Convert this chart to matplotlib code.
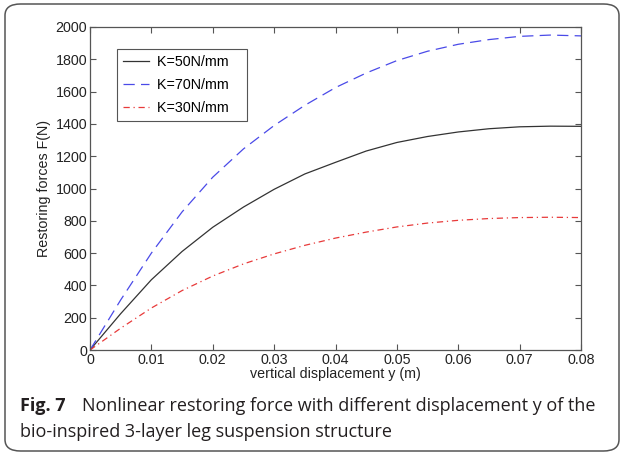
import matplotlib
matplotlib.use("Agg")
import matplotlib.pyplot as plt
from matplotlib.patches import FancyBboxPatch

# ---- data ----
y_disp = [0.0, 0.005, 0.01, 0.015, 0.02, 0.025, 0.03, 0.035, 0.04, 0.045,
          0.05, 0.055, 0.06, 0.065, 0.07, 0.075, 0.08]
f_k50 = [0, 225, 435, 610, 760, 885, 995, 1090, 1162, 1232,
         1285, 1322, 1350, 1370, 1382, 1386, 1385]
f_k70 = [0, 310, 600, 855, 1070, 1245, 1390, 1515, 1625, 1715,
         1792, 1850, 1893, 1922, 1942, 1950, 1945]
f_k30 = [0, 135, 260, 368, 458, 533, 595, 648, 693, 730,
         762, 786, 803, 814, 820, 822, 820]
labels = ["K=50N/mm", "K=70N/mm", "K=30N/mm"]
xticks = [0, 0.01, 0.02, 0.03, 0.04, 0.05, 0.06, 0.07, 0.08]
xticklabels = ["0", "0.01", "0.02", "0.03", "0.04", "0.05", "0.06", "0.07", "0.08"]
yticks = [0, 200, 400, 600, 800, 1000, 1200, 1400, 1600, 1800, 2000]

W, H = 623, 455
FS = 10.3
SANS = ["Liberation Sans", "DejaVu Sans"]
CAP = ["Open Sans", "DejaVu Sans"]

fig = plt.figure(figsize=(W / 100, H / 100), dpi=100)
fig.patch.set_facecolor("white")

# rounded frame around the whole figure
frame = FancyBboxPatch((5 / W, 4 / H), 614 / W, 447 / H,
                       boxstyle="round,pad=0,rounding_size=0.025",
                       transform=fig.transFigure, fill=False,
                       edgecolor="#555555", linewidth=1.1)
fig.patches.append(frame)

ax = fig.add_axes([90 / W, (H - 350) / H, 491 / W, 323 / H])

ax.plot(y_disp, f_k50, color="#333333", lw=0.9, ls="-", label=labels[0] + "   ")
ax.plot(y_disp, f_k70, color="#4a4ae8", lw=0.9, ls=(0, (9, 5)), label=labels[1] + "   ")
ax.plot(y_disp, f_k30, color="#e83a3a", lw=0.9, ls=(0, (5, 3, 1, 3)), label=labels[2] + "   ")

ax.set_xlim(0, 0.08)
ax.set_ylim(0, 2000)
ax.set_xticks(xticks)
ax.set_xticklabels(xticklabels)
ax.set_yticks(yticks)
for s in ax.spines.values():
    s.set_color("#555555")
    s.set_linewidth(0.9)
ax.tick_params(direction="in", length=4, width=0.8, color="#555555",
               top=True, right=True, labelsize=FS, pad=2)
for t in ax.get_xticklabels() + ax.get_yticklabels():
    t.set_fontfamily(SANS)
    t.set_color("#222222")

ax.set_xlabel("vertical displacement y (m)", fontsize=FS, family=SANS,
              labelpad=0, color="#222222")
ax.set_ylabel("Restoring forces F(N)", fontsize=FS, family=SANS,
              labelpad=3, color="#222222")

leg = ax.legend(loc="upper left", bbox_to_anchor=(27 / 491, 1 - 22 / 323),
                prop={"family": SANS, "size": FS},
                fancybox=False, edgecolor="#555555", framealpha=1,
                handlelength=1.8, handletextpad=0.6, borderpad=0.42,
                labelspacing=0.62, borderaxespad=0)
leg.get_frame().set_linewidth(0.8)

# caption
fig.text(20 / W, 1 - 411 / H, "Fig. 7", fontsize=13, fontweight="bold",
         family=CAP, color="#231f20", va="baseline")
fig.text(82 / W, 1 - 411 / H,
         "Nonlinear restoring force with different displacement y of the",
         fontsize=13, family=CAP, color="#231f20", va="baseline")
fig.text(20 / W, 1 - 437 / H, "bio-inspired 3-layer leg suspension structure",
         fontsize=13, family=CAP, color="#231f20", va="baseline")

fig.savefig("out.png", dpi=100)
